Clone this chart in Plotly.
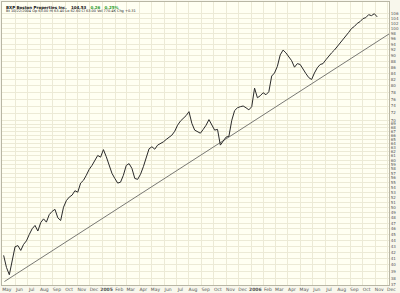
import math
import pandas as pd
import plotly.graph_objects as go

# weekly closes, May 2004 .. early Nov 2006
week_dates = pd.date_range("2004-05-03", periods=132, freq="7D")
closes = [
    41.5, 39.6, 38.5, 40.9, 42.9, 43.1, 42.3, 43.3, 43.9, 45.0,
    46.0, 46.6, 45.6, 47.1, 47.8, 47.2, 48.6, 49.2, 49.6, 48.0,
    47.5, 50.0, 51.3, 52.0, 52.4, 53.3, 53.0, 54.9, 55.5, 56.6,
    57.9, 58.8, 59.9, 61.1, 60.7, 62.5, 60.8, 58.8, 57.0, 55.9,
    54.9, 55.1, 56.6, 58.8, 59.2, 58.1, 55.9, 55.7, 56.8, 58.5,
    60.6, 62.7, 63.2, 62.6, 63.6, 63.9, 64.4, 65.0, 65.6, 66.1,
    67.1, 68.7, 69.8, 70.5, 71.3, 72.4, 69.2, 67.4, 66.9, 66.6,
    67.6, 68.7, 70.2, 68.7, 67.4, 67.6, 63.6, 64.6, 65.6, 65.8,
    70.0, 72.7, 73.5, 73.8, 74.0, 73.5, 72.9, 73.8, 79.3, 76.4,
    77.0, 77.9, 77.3, 78.2, 83.1, 84.1, 86.3, 90.2, 91.9, 90.9,
    89.5, 88.2, 86.0, 87.2, 86.9, 85.2, 83.9, 82.6, 82.0, 84.1,
    85.8, 86.9, 87.2, 88.5, 89.8, 90.9, 91.9, 93.1, 94.3, 95.5,
    97.0, 98.4, 99.9, 100.7, 101.9, 102.6, 103.8, 104.2, 105.4, 105.0,
    105.8, 104.5,
]

# trend line end points
trend_dates = ["2004-05-05", "2006-12-05"]
trend_prices = [37.5, 97.8]

# x-axis ticks
month_ticks = [
    "2004-05-01", "2004-06-01", "2004-07-01", "2004-08-01", "2004-09-01", "2004-10-01",
    "2004-11-01", "2004-12-01", "2005-01-01", "2005-02-01", "2005-03-01", "2005-04-01",
    "2005-05-01", "2005-06-01", "2005-07-01", "2005-08-01", "2005-09-01", "2005-10-01",
    "2005-11-01", "2005-12-01", "2006-01-01", "2006-02-01", "2006-03-01", "2006-04-01",
    "2006-05-01", "2006-06-01", "2006-07-01", "2006-08-01", "2006-09-01", "2006-10-01",
    "2006-11-01", "2006-12-01",
]
month_labels = [
    "May", "Jun", "Jul", "Aug", "Sep", "Oct", "Nov", "Dec", "<b>2005</b>", "Feb", "Mar", "Apr",
    "May", "Jun", "Jul", "Aug", "Sep", "Oct", "Nov", "Dec", "<b>2006</b>", "Feb", "Mar", "Apr",
    "May", "Jun", "Jul", "Aug", "Sep", "Oct", "Nov", "Dec",
]

# y-axis ticks
price_ticks = list(range(37, 71)) + list(range(72, 107, 2))

fig = go.Figure()
fig.add_trace(go.Scatter(x=trend_dates, y=trend_prices, mode="lines",
                         line=dict(color="#6a6a66", width=0.9), hoverinfo="skip"))
fig.add_trace(go.Scatter(x=week_dates, y=closes, mode="lines",
                         line=dict(color="#2a2a2a", width=1.0)))

fig.update_layout(
    width=400, height=293,
    margin=dict(l=2, r=10, t=1, b=6),
    paper_bgcolor="#f8f7ec",
    plot_bgcolor="#fffff2",
    showlegend=False,
    font=dict(family="DejaVu Sans", color="#555555"),
)
fig.update_xaxes(
    type="date",
    range=["2004-04-29", "2006-12-05"],
    tickvals=month_ticks, ticktext=month_labels,
    tickfont=dict(size=4.5, color="#555555"),
    tickangle=0,
    ticklabelshift=4,
    ticks="", ticklen=0,
    showgrid=True, gridcolor="#ecead6", gridwidth=1,
    showline=True, linecolor="#b8b6a4", linewidth=1, mirror=True,
    zeroline=False,
)
fig.update_yaxes(
    type="log",
    range=[math.log10(37.0), math.log10(110.7)],
    side="right",
    tickvals=price_ticks, ticktext=[str(v) for v in price_ticks],
    tickfont=dict(size=4, color="#555555"),
    ticks="", ticklen=0,
    showgrid=True, gridcolor="#ecead6", gridwidth=1,
    showline=True, linecolor="#b8b6a4", linewidth=1, mirror=True,
    zeroline=False,
)

fig.add_annotation(
    xref="paper", yref="paper", x=0.005, y=0.998, xanchor="left", yanchor="top",
    showarrow=False,
    text="<b>BXP Boston Properties Inc.   104.53   <span style='color:#2a9d2a'>0.26   0.25%</span></b>",
    font=dict(size=4, color="#111111"),
)
fig.add_annotation(
    xref="paper", yref="paper", x=0.005, y=0.982, xanchor="left", yanchor="top",
    showarrow=False,
    text="Bt 10/22/2004 Op 63.00 Hi 63.40 Lo 62.60 Cl 63.00 Vol 770.4K Chg +0.31",
    font=dict(size=3.5, color="#222222"),
)

fig.write_html("out.html")
